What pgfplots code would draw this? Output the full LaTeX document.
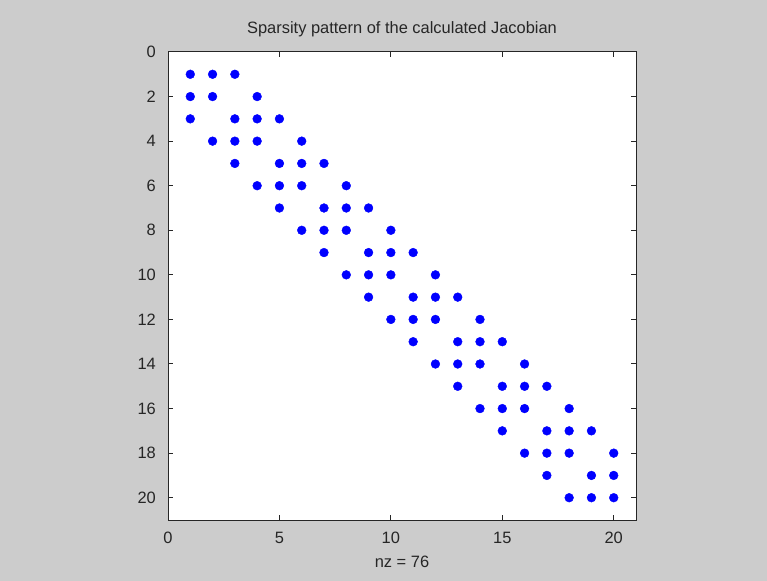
\documentclass[border=0pt]{standalone}
\usepackage{pgfplots}
\pgfplotsset{compat=1.18}
\usepackage{fontspec}
\setmainfont{Liberation Sans}
\definecolor{figbg}{RGB}{204,204,204}
\definecolor{spyblue}{RGB}{0,0,255}
\begin{document}
\begin{tikzpicture}[x=1bp,y=1bp]
\fill[figbg] (0,0) rectangle (767,581);
\begin{axis}[
  at={(168bp,61bp)}, anchor=south west,
  scale only axis, width=468bp, height=468bp,
  xmin=0, xmax=21, ymin=0, ymax=21,
  y dir=reverse,
  xtick={0,5,10,15,20},
  ytick={0,2,4,6,8,10,12,14,16,18,20},
  tick align=inside,
  major tick length=5bp,
  axis background/.style={fill=white},
  axis line style={line width=1bp, black!85},
  every tick/.style={line width=1bp, black!85},
  /pgf/number format/assume math mode=true,
  tick label style={font=\fontsize{16.5}{19}\selectfont, text=black!85},
  x tick label style={inner sep=0pt, yshift=-12bp},
  y tick label style={inner sep=0pt, xshift=-12bp},
  title={Sparsity pattern of the calculated Jacobian},
  title style={font=\fontsize{16.5}{19}\selectfont, text=black!85, at={(axis description cs:0.5,1)}, anchor=base, inner sep=0pt, yshift=13bp},
  xlabel={nz = 76},
  xlabel style={font=\fontsize{16.5}{19}\selectfont, text=black!85, at={(axis description cs:0.5,0)}, anchor=base, inner sep=0pt, yshift=-47bp},
]
\addplot[only marks, mark=*, mark size=4.4bp, spyblue, mark options={fill=spyblue, draw=spyblue}] coordinates {
(1,1) (2,1) (3,1)
(1,2) (2,2) (4,2)
(1,3) (3,3) (4,3) (5,3)
(2,4) (3,4) (4,4) (6,4)
(3,5) (5,5) (6,5) (7,5)
(4,6) (5,6) (6,6) (8,6)
(5,7) (7,7) (8,7) (9,7)
(6,8) (7,8) (8,8) (10,8)
(7,9) (9,9) (10,9) (11,9)
(8,10) (9,10) (10,10) (12,10)
(9,11) (11,11) (12,11) (13,11)
(10,12) (11,12) (12,12) (14,12)
(11,13) (13,13) (14,13) (15,13)
(12,14) (13,14) (14,14) (16,14)
(13,15) (15,15) (16,15) (17,15)
(14,16) (15,16) (16,16) (18,16)
(15,17) (17,17) (18,17) (19,17)
(16,18) (17,18) (18,18) (20,18)
(17,19) (19,19) (20,19)
(18,20) (19,20) (20,20)
};
\end{axis}
\end{tikzpicture}
\end{document}
